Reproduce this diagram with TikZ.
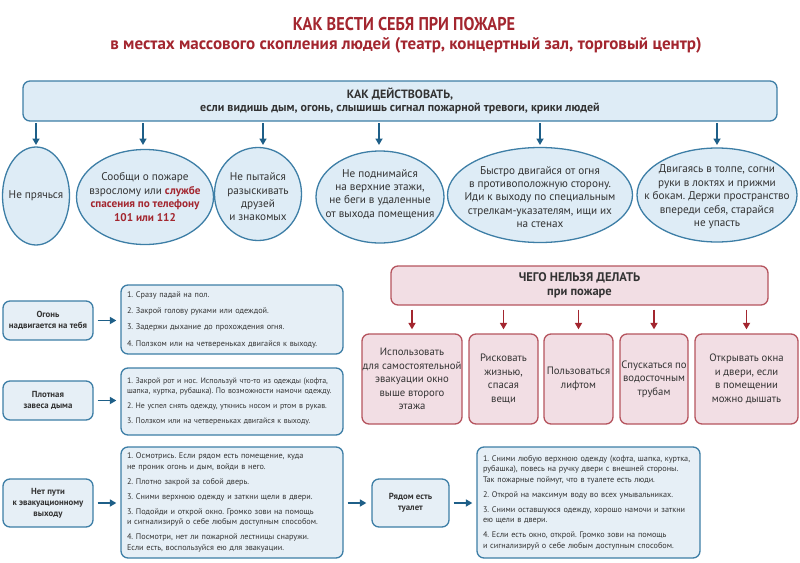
\documentclass[tikz,border=0pt]{standalone}
\usepackage{fontspec}
\setmainfont{PT Sans}
\newfontfamily\condf[FakeStretch=0.88]{PT Sans}
\usetikzlibrary{shapes.geometric,arrows.meta}
\definecolor{tred}{HTML}{A3262F}
\definecolor{bstroke}{HTML}{3D7EA6}
\definecolor{bfill}{HTML}{DEECF6}
\definecolor{lfill}{HTML}{E6EFF6}
\definecolor{barrow}{HTML}{1E5F88}
\definecolor{rfill}{HTML}{F2DEE4}
\definecolor{rstroke}{HTML}{B5545E}
\definecolor{txt}{HTML}{333333}
\frenchspacing
\tikzset{
  bluebox/.style={draw=bstroke, fill=bfill, line width=1.3pt, rounded corners=7pt, inner sep=0pt},
  ell/.style={ellipse, draw=bstroke, fill=bfill, line width=1.3pt, inner sep=0pt},
  etext/.style={align=center, inner sep=0pt, text=txt, font=\fontsize{11.2}{13.4}\selectfont},
  lbl/.style={bluebox, fill=lfill, align=center, text=txt, font=\fontsize{8.8}{11}\selectfont\bfseries},
  listbox/.style={bluebox, fill=lfill, align=left, inner xsep=6pt, text=txt, font=\fontsize{8.2}{10.5}\selectfont},
  redbox/.style={draw=rstroke, fill=rfill, line width=1.3pt, rounded corners=7pt, inner sep=0pt, align=center, text=txt, font=\fontsize{10.7}{13.5}\selectfont},
  barr/.style={draw=barrow, line width=1.6pt, -{Triangle[length=6.5pt,width=7pt]}},
  rarr/.style={draw=tred, line width=1.6pt, -{Triangle[length=6.5pt,width=7pt]}},
}
\begin{document}
\begin{tikzpicture}[x=1pt,y=-1pt]
\useasboundingbox (0,0) rectangle (800,562);
% titles
\node[text=tred, font=\fontsize{18.5}{20}\selectfont\condf\bfseries] (title) at (404,24) {КАК ВЕСТИ СЕБЯ ПРИ ПОЖАРЕ};
\node[text=tred, font=\fontsize{17}{18}\selectfont\bfseries] (subtitle) at (406,45) {в местах массового скопления людей (театр, концертный зал, торговый центр)};
% top banner
\node[bluebox, minimum width=754pt, minimum height=40pt, align=center, text=txt, font=\fontsize{12}{13.5}\selectfont\bfseries] (ban) at (400,101) {КАК ДЕЙСТВОВАТЬ,\\если видишь дым, огонь, слышишь сигнал пожарной тревоги, крики людей};
% ellipses
\node[ell, minimum width=67pt, minimum height=98pt] (e1) at (36,196) {};
\node[ell, minimum width=137pt, minimum height=95pt] (e2) at (145,197) {};
\node[ell, minimum width=87pt, minimum height=93pt] (e3) at (258,194) {};
\node[ell, minimum width=128pt, minimum height=92pt] (e4) at (380,197) {};
\node[ell, minimum width=185pt, minimum height=95pt] (e5) at (540,195) {};
\node[ell, minimum width=160pt, minimum height=94pt] (e6) at (717,195) {};
\node[etext] (t1) at (e1) {Не прячься};
\node[etext] (t2) at (145,197) {Сообщи о пожаре\\взрослому или \textcolor{tred}{\bfseries службе}\\\textcolor{tred}{\bfseries спасения по телефону}\\\textcolor{tred}{\bfseries 101 или 112}};
\node[etext] (t3) at (258,197) {Не пытайся\\разыскивать\\друзей\\и знакомых};
\node[etext] (t4) at (380,194) {Не поднимайся\\на верхние этажи,\\не беги в удаленные\\от выхода помещения};
\node[etext] (t5) at (540,197) {Быстро двигайся от огня\\в противоположную сторону.\\Иди к выходу по специальным\\стрелкам-указателям, ищи их\\на стенах};
\node[etext] (t6) at (717,197) {Двигаясь в толпе, согни\\руки в локтях и прижми\\к бокам. Держи пространство\\впереди себя, старайся\\не упасть};
\foreach \e/\xx in {e1/36,e2/143,e3/263,e4/379,e5/540,e6/717}{
  \draw[barr, shorten <=2pt, shorten >=3pt] (\xx,121) -- (\xx,148);
}
% left labels and lists
\node[lbl, minimum width=90pt, minimum height=39pt] (L1) at (48,320.5) {Огонь\\надвигается на тебя};
\node[lbl, minimum width=90pt, minimum height=39pt] (L2) at (48,400.5) {Плотная\\завеса дыма};
\node[lbl, minimum width=90pt, minimum height=48pt] (L3) at (48,503) {Нет пути\\к эвакуационному\\выходу};
\node[listbox, minimum width=222pt, minimum height=69pt, text width=210pt] (T1) at (232,319.5) {1. Сразу падай на пол.\\[5.8pt]2. Закрой голову руками или одеждой.\\[5.8pt]3. Задержи дыхание до прохождения огня.\\[5.8pt]4. Ползком или на четвереньках двигайся к выходу.};
\node[listbox, minimum width=222pt, minimum height=67pt, text width=210pt, font=\fontsize{7.9}{10.5}\selectfont] (T2) at (232,401.5) {1. Закрой рот и нос. Используй что-то из одежды (кофта,\\шапка, куртка, рубашка). По возможности намочи одежду.\\[4.5pt]2. Не успел снять одежду, уткнись носом и ртом в рукав.\\[4.5pt]3. Ползком или на четвереньках двигайся к выходу.};
\node[listbox, minimum width=222pt, minimum height=111pt, text width=210pt] (T3) at (232,502.5) {1. Осмотрись. Если рядом есть помещение, куда\\не проник огонь и дым, войди в него.\\[4.5pt]2. Плотно закрой за собой дверь.\\[4.5pt]3. Сними верхнюю одежду и заткни щели в двери.\\[4.5pt]3. Подойди и открой окно. Громко зови на помощь\\и сигнализируй о себе любым доступным способом.\\[4.5pt]4. Посмотри, нет ли пожарной лестницы снаружи.\\Если есть, воспользуйся ею для эвакуации.};
\node[lbl, minimum width=77pt, minimum height=48pt] (R) at (410.5,503) {Рядом есть\\туалет};
\node[listbox, minimum width=223pt, minimum height=111pt, text width=211pt] (T4) at (588.5,502.5) {1. Сними любую верхнюю одежду (кофта, шапка, куртка,\\рубашка), повесь на ручку двери с внешней стороны.\\Так пожарные поймут, что в туалете есть люди.\\[4.5pt]2. Открой на максимум воду во всех умывальниках.\\[4.5pt]3. Сними оставшуюся одежду, хорошо намочи и заткни\\ею щели в двери.\\[4.5pt]4. Если есть окно, открой. Громко зови на помощь\\и сигнализируй о себе любым доступным способом.};
\draw[barr, shorten <=4pt, shorten >=4pt] (L1.east) -- (L1.east -| T1.west);
\draw[barr, shorten <=4pt, shorten >=4pt] (L2.east) -- (L2.east -| T2.west);
\draw[barr, shorten <=4pt, shorten >=4pt] (L3.east) -- (L3.east -| T3.west);
\draw[barr, shorten <=4pt, shorten >=5pt] (T3.east |- R.west) -- (R.west);
\draw[barr, shorten <=4pt, shorten >=4pt] (R.east) -- (R.east -| T4.west);
% red section
\node[redbox, minimum width=377pt, minimum height=39pt, font=\fontsize{12.5}{14}\selectfont\bfseries] (nban) at (579.5,285.5) {ЧЕГО НЕЛЬЗЯ ДЕЛАТЬ\\при пожаре};
\node[redbox, minimum width=100pt, minimum height=90pt] (B1) at (412,379) {Использовать\\для самостоятельной\\эвакуации окно\\выше второго\\этажа};
\node[redbox, minimum width=69pt, minimum height=90pt] (B2) at (503.5,379) {Рисковать\\жизнью,\\спасая\\вещи};
\node[redbox, minimum width=69pt, minimum height=90pt] (B3) at (578.5,379) {Пользоваться\\лифтом};
\node[redbox, minimum width=68pt, minimum height=90pt] (B4) at (654,379) {Спускаться по\\водосточным\\трубам};
\node[redbox, minimum width=103pt, minimum height=90pt] (B5) at (746.5,379) {Открывать окна\\и двери, если\\в помещении\\можно дышать};
\foreach \b in {B1,B2,B3,B4,B5}{
  \draw[rarr, shorten <=4pt, shorten >=4pt] (\b.north |- nban.south) -- (\b.north);
}
\end{tikzpicture}
\end{document}
